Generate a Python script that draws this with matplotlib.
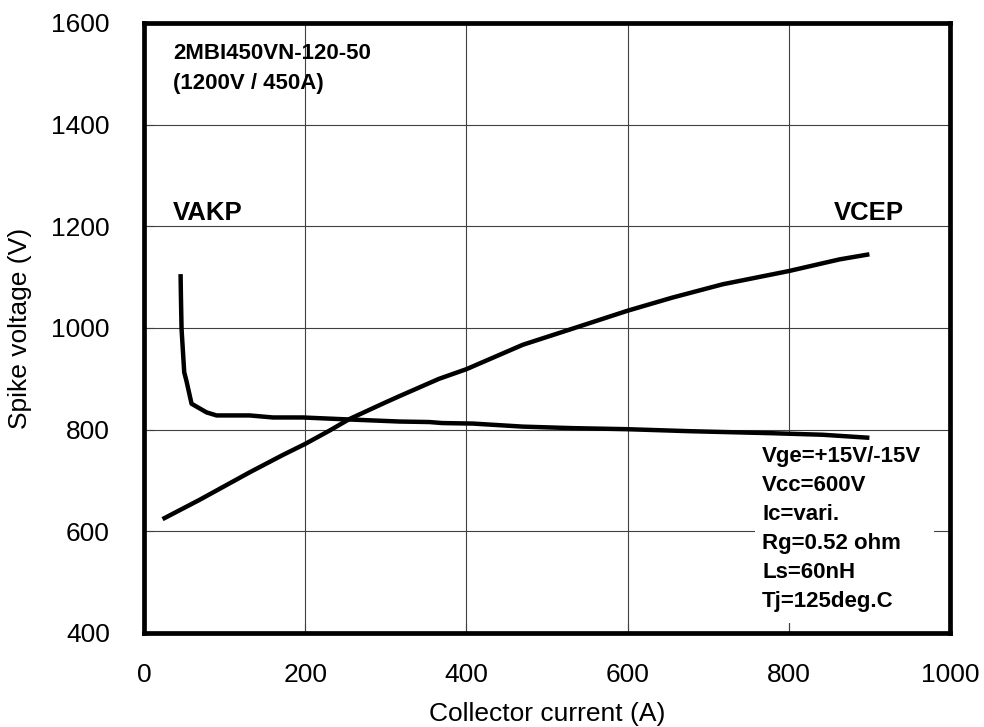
import matplotlib
matplotlib.use("Agg")
import matplotlib.pyplot as plt
from matplotlib.patches import Rectangle

plt.rcParams['font.family'] = ['Liberation Sans', 'DejaVu Sans']

# Data
vakp_current = [45.4, 45.8, 46.6, 49.9, 52.8, 59, 77.6, 90, 131, 160, 197, 255, 317,
                354, 370, 408, 470, 532, 598, 677, 780, 842, 900]
vakp_voltage = [1106, 1063, 998, 913, 895, 851, 834, 828, 828, 824, 824, 820, 816,
                815, 813, 812, 806, 803, 801, 797, 793, 790, 784]

vcep_current = [23, 69, 131, 172, 200, 230, 255, 296, 317, 366, 400, 470, 540, 600,
                656, 718, 800, 863, 900]
vcep_voltage = [624, 662, 716, 750, 772, 798, 821, 851, 866, 900, 919, 967, 1003,
                1034, 1060, 1086, 1112, 1135, 1145]

x_ticks = [0, 200, 400, 600, 800, 1000]
y_ticks = [400, 600, 800, 1000, 1200, 1400, 1600]

title_lines = ["2MBI450VN-120-50", "(1200V / 450A)"]
cond_lines = ["Vge=+15V/-15V", "Vcc=600V", "Ic=vari.", "Rg=0.52 ohm", "Ls=60nH",
              "Tj=125deg.C"]

W, H = 984, 727
fig = plt.figure(figsize=(W / 100, H / 100), dpi=100)
ax = fig.add_axes([144 / W, (H - 633) / H, (950 - 144) / W, (633 - 23) / H])

ax.set_xlim(0, 1000)
ax.set_ylim(400, 1600)
ax.set_xticks(x_ticks)
ax.set_yticks(y_ticks)
ax.grid(True, color='#404040', linewidth=0.8)
ax.set_axisbelow(True)
for s in ax.spines.values():
    s.set_linewidth(3.4)
ax.tick_params(direction='in', length=7, width=0.8, labelsize=19, color='#404040')
ax.tick_params(axis='y', pad=24.5)
ax.tick_params(axis='x', pad=21.5)

ax.plot(vakp_current, vakp_voltage, color='black', linewidth=3.2, zorder=4,
        solid_joinstyle='round', solid_capstyle='butt')
ax.plot(vcep_current, vcep_voltage, color='black', linewidth=3.2, zorder=4,
        solid_joinstyle='round', solid_capstyle='butt')

ax.set_xlabel("Collector current (A)", fontsize=19, labelpad=11)
ax.set_ylabel("Spike voltage (V)", fontsize=19, labelpad=14)

ax.text(36, 1529, title_lines[0], fontsize=16, fontweight='bold',
        va='baseline', ha='left')
ax.text(36, 1470, title_lines[1], fontsize=16, fontweight='bold',
        va='baseline', ha='left')
ax.text(36, 1212, "VAKP", fontsize=18.5, fontweight='bold', va='baseline', ha='left')
ax.text(856, 1212, "VCEP", fontsize=18.5, fontweight='bold', va='baseline', ha='left')

# white background behind the condition block
ax.add_patch(Rectangle((758, 420), 222, 375, facecolor='white', edgecolor='none',
                       zorder=2.5))
ax.text(767, 767, "\n".join(cond_lines), fontsize=16, fontweight='bold',
        va='top', ha='left', linespacing=1.5, zorder=5)

fig.savefig("out.png", dpi=100)
